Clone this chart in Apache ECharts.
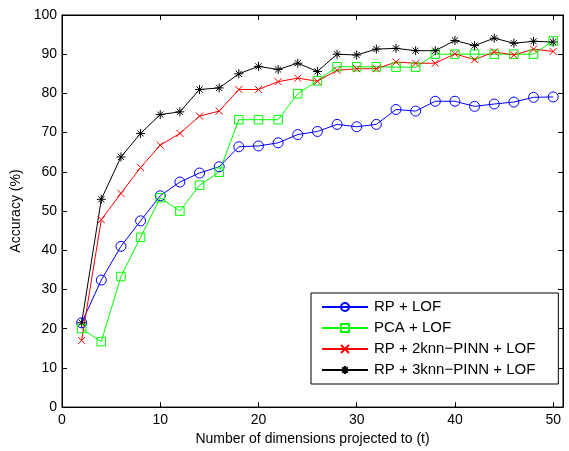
<!DOCTYPE html>
<html>
<head>
<meta charset="utf-8">
<script src="https://cdn.jsdelivr.net/npm/echarts@6/dist/echarts.min.js"></script>
<style>
  html, body { margin: 0; padding: 0; background: #fff; }
  #chart { width: 569px; height: 451px; }
</style>
</head>
<body>
<div id="chart"></div>
<script>
// Number of dimensions projected to (t)
const dims = [2, 4, 6, 8, 10, 12, 14, 16, 18, 20, 22, 24, 26, 28, 30, 32, 34, 36, 38, 40, 42, 44, 46, 48, 50];

// Accuracy (%) per method
const rpLof = [21.5, 32.4, 41.0, 47.5, 53.9, 57.4, 59.7, 61.3, 66.4, 66.6, 67.4, 69.5, 70.3, 72.1, 71.5, 72.1, 75.9, 75.5, 78.0, 78.0, 76.7, 77.3, 77.8, 79.0, 79.1];
const pcaLof = [20.0, 16.7, 33.3, 43.3, 53.4, 50.0, 56.6, 59.9, 73.3, 73.3, 73.3, 79.9, 83.2, 86.8, 86.8, 86.8, 86.7, 86.7, 90.0, 90.0, 90.0, 90.0, 90.0, 90.0, 93.4];
const rp2knn = [17.0, 47.8, 54.5, 61.1, 66.8, 69.8, 74.2, 75.5, 81.0, 81.0, 83.0, 83.9, 83.1, 85.9, 86.3, 86.3, 88.0, 87.7, 87.7, 90.1, 88.6, 90.6, 89.8, 91.3, 90.7];
const rp3knn = [21.5, 53.0, 63.8, 69.8, 74.6, 75.3, 81.0, 81.4, 85.0, 86.9, 86.1, 87.7, 85.6, 90.0, 89.8, 91.3, 91.5, 90.9, 90.9, 93.5, 92.2, 94.1, 92.8, 93.3, 93.1];

const seriesNames = ['RP + LOF', 'PCA + LOF', 'RP + 2knn\u2212PINN + LOF', 'RP + 3knn\u2212PINN + LOF'];

const FONT = 'Liberation Sans, Arial, Helvetica, sans-serif';

// stroked marker shapes
const crossPath = 'path://M0,0L10,10M10,0L0,10';
const starPath = 'path://M5,0L5,10M0,5L10,5M1.6,1.6L8.4,8.4M8.4,1.6L1.6,8.4';

function pairs(ys) {
  return dims.map((x, i) => [x, ys[i]]);
}

function lineSeries(name, ys, color, symbol, size) {
  return {
    name: name,
    type: 'line',
    xAxisIndex: 0,
    yAxisIndex: 0,
    data: pairs(ys),
    symbol: symbol,
    symbolSize: size,
    showAllSymbol: true,
    animation: false,
    lineStyle: { color: color, width: 1 },
    itemStyle: { color: 'rgba(255,255,255,0)', borderColor: color, borderWidth: 1 },
    emphasis: { disabled: true }
  };
}

const tickStyle = { inside: true, length: 5, lineStyle: { color: '#000', width: 1 } };
const labelStyle = { color: '#000', fontSize: 14, fontFamily: FONT };

const chart = echarts.init(document.getElementById('chart'), null, { renderer: 'canvas' });
chart.setOption({
  backgroundColor: '#fff',
  animation: false,
  grid: {
    left: 62, right: 6, top: 15, bottom: 42,
    show: true, borderColor: '#000', borderWidth: 1, backgroundColor: 'transparent'
  },
  xAxis: [
    {
      type: 'value', min: 0, max: 51, interval: 10, position: 'bottom',
      name: 'Number of dimensions projected to (t)',
      nameLocation: 'middle', nameGap: 20,
      nameTextStyle: { color: '#000', fontSize: 14, fontFamily: FONT },
      axisLine: { show: true, onZero: false, lineStyle: { color: '#000', width: 1 } },
      axisTick: tickStyle,
      axisLabel: Object.assign({ margin: 6, showMaxLabel: false }, labelStyle),
      splitLine: { show: false }
    },
    {
      type: 'value', min: 0, max: 51, interval: 10, position: 'top',
      axisLine: { show: true, onZero: false, lineStyle: { color: '#000', width: 1 } },
      axisTick: tickStyle,
      axisLabel: { show: false },
      splitLine: { show: false }
    }
  ],
  yAxis: [
    {
      type: 'value', min: 0, max: 100, interval: 10, position: 'left',
      name: 'Accuracy (%)',
      nameLocation: 'middle', nameGap: 35,
      nameTextStyle: { color: '#000', fontSize: 14, fontFamily: FONT },
      axisLine: { show: true, onZero: false, lineStyle: { color: '#000', width: 1 } },
      axisTick: tickStyle,
      axisLabel: Object.assign({ margin: 5 }, labelStyle),
      splitLine: { show: false }
    },
    {
      type: 'value', min: 0, max: 100, interval: 10, position: 'right',
      axisLine: { show: true, onZero: false, lineStyle: { color: '#000', width: 1 } },
      axisTick: tickStyle,
      axisLabel: { show: false },
      splitLine: { show: false }
    }
  ],
  legend: {
    orient: 'vertical',
    left: 311, top: 293,
    padding: [6.5, 23, 6.5, 10],
    itemWidth: 46, itemHeight: 10, itemGap: 6,
    backgroundColor: '#fff',
    borderColor: '#000', borderWidth: 1, borderRadius: 0,
    textStyle: { color: '#000', fontSize: 15, fontFamily: FONT, padding: [0, 0, 0, 1] },
    selectedMode: false,
    data: seriesNames
  },
  series: [
    lineSeries(seriesNames[0], rpLof, '#0000ff', 'circle', 10),
    lineSeries(seriesNames[1], pcaLof, '#00ff00', 'rect', 8.5),
    lineSeries(seriesNames[2], rp2knn, '#ff0000', crossPath, 7),
    lineSeries(seriesNames[3], rp3knn, '#000000', starPath, 9)
  ]
});
</script>
</body>
</html>
